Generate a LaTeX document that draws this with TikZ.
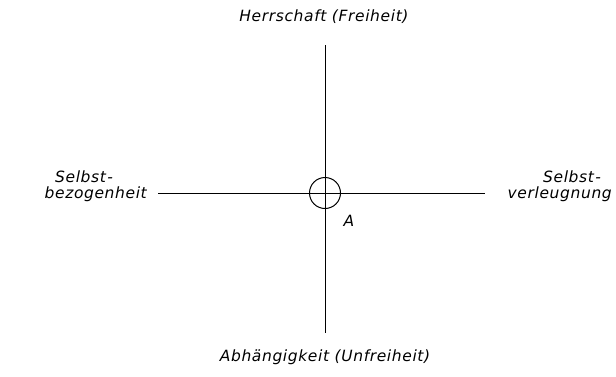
\documentclass[tikz,border=0pt]{standalone}
\usepackage{fontspec}
\setmainfont{DejaVu Sans}
\newfontfamily\lab[LetterSpace=4]{DejaVu Sans}
\begin{document}
\begin{tikzpicture}[x=1pt,y=-1pt,
  axis/.style={line width=1pt,black},
  lbl/.style={font=\lab\itshape\fontsize{15.5}{18}\selectfont,inner sep=0pt},
  ring/.style={circle,draw,line width=1pt,minimum size=31pt,inner sep=0pt}]
\useasboundingbox (0,0) rectangle (616,376);
\coordinate (top) at (325,45);
\coordinate (bot) at (325,333);
\coordinate (left) at (158,193);
\coordinate (right) at (485,193);
\node[ring] (o) at (325,193) {};
\draw[axis] (top) -- (bot);
\draw[axis] (left) -- (right);
\node[lbl] (h) at (324,17) {Herrschaft (Freiheit)};
\node[lbl] (u) at (325,357) {Abhängigkeit (Unfreiheit)};
\node[lbl,anchor=west] (s1) at (55,177) {Selbst\kern1.5pt-};
\node[lbl,anchor=east] (s2) at (147,194) {bezogenheit};
\node[lbl,anchor=west] (s3) at (543,177) {Selbst\kern1.5pt-};
\node[lbl,anchor=east] (s4) at (612,194) {verleugnung};
\node[lbl] (a) at (349,221) {A};
\end{tikzpicture}
\end{document}
